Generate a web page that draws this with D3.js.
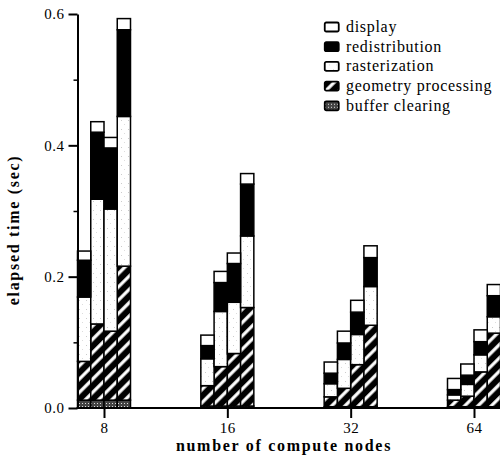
<!DOCTYPE html>
<html>
<head>
<meta charset="utf-8">
<script src="https://cdn.jsdelivr.net/npm/d3@7"></script>
<style>
    body { margin: 0; background: #fff; }
    #chart { width: 500px; height: 461px; }
    .axis text { font-family: "Liberation Serif", serif; font-size: 15px; fill: #000; letter-spacing: 0.5px; }
    .axis path, .axis line { stroke: #000; }
    .axis-title { font-family: "Liberation Serif", serif; font-weight: bold; font-size: 16px; letter-spacing: 1.7px; }
    .legend-text { font-family: "Liberation Serif", serif; font-size: 16px; letter-spacing: 0.7px; }
</style>
</head>
<body>
<div id="chart"></div>
<script>

// node counts on the x axis, four runs per group
const nodeCounts = [8, 16, 32, 64];
const runs = [0, 1, 2, 3];

// elapsed time per phase (sec), ordered group by group, run by run
const bufferClearing = [
    0.012, 0.012, 0.012, 0.012,
    0.003, 0.003, 0.003, 0.003,
    0.002, 0.002, 0.002, 0.002,
    0.002, 0.002, 0.002, 0.002
];
const geometryProcessing = [
    0.059, 0.116, 0.105, 0.204,
    0.031, 0.060, 0.080, 0.150,
    0.015, 0.028, 0.064, 0.124,
    0.010, 0.016, 0.053, 0.112
];
const rasterization = [
    0.098, 0.190, 0.186, 0.228,
    0.041, 0.084, 0.078, 0.109,
    0.020, 0.044, 0.046, 0.059,
    0.008, 0.018, 0.026, 0.025
];
const redistribution = [
    0.056, 0.102, 0.093, 0.132,
    0.020, 0.044, 0.059, 0.079,
    0.016, 0.025, 0.034, 0.044,
    0.008, 0.014, 0.020, 0.032
];
const display = [
    0.014, 0.016, 0.016, 0.017,
    0.016, 0.017, 0.016, 0.016,
    0.017, 0.018, 0.018, 0.018,
    0.017, 0.017, 0.018, 0.017
];

const phaseNames = ["buffer clearing", "geometry processing", "rasterization", "redistribution", "display"];
const yTicks = [0, 0.2, 0.4, 0.6];
const yMinorTicks = [0.1, 0.3, 0.5];

class StackedBars {
    constructor(parentElement){
        this.parentElement = parentElement;
        this.initVis();
    }

    initVis(){
        let vis = this;

        vis.width = 500;
        vis.height = 461;

        vis.svg = d3.select("#" + vis.parentElement).append("svg")
            .attr("width", vis.width)
            .attr("height", vis.height);

        let defs = vis.svg.append("defs");

        // black with white diagonal stripes
        let stripes = defs.append("pattern")
            .attr("id", "stripes")
            .attr("patternUnits", "userSpaceOnUse")
            .attr("width", 9.4)
            .attr("height", 10)
            .attr("patternTransform", "rotate(45)");
        stripes.append("rect").attr("width", 9.4).attr("height", 10).attr("fill", "#000");
        stripes.append("rect").attr("x", 3).attr("width", 3.2).attr("height", 10).attr("fill", "#fff");

        // gray crosshatch for buffer clearing
        let hatch = defs.append("pattern")
            .attr("id", "hatch")
            .attr("patternUnits", "userSpaceOnUse")
            .attr("width", 3)
            .attr("height", 3);
        hatch.append("rect").attr("width", 3).attr("height", 3).attr("fill", "#444");
        hatch.append("rect").attr("x", 1).attr("y", 1).attr("width", 1).attr("height", 1).attr("fill", "#ddd");

        // faint stipple for rasterization
        let stipple = defs.append("pattern")
            .attr("id", "stipple")
            .attr("patternUnits", "userSpaceOnUse")
            .attr("width", 7)
            .attr("height", 9);
        stipple.append("rect").attr("width", 7).attr("height", 9).attr("fill", "#fff");
        stipple.append("rect").attr("x", 2).attr("y", 3).attr("width", 1).attr("height", 1).attr("fill", "#ccc");
        stipple.append("rect").attr("x", 5).attr("y", 7).attr("width", 1).attr("height", 1).attr("fill", "#ddd");

        vis.fills = {
            "buffer clearing": "url(#hatch)",
            "geometry processing": "url(#stripes)",
            "rasterization": "url(#stipple)",
            "redistribution": "#000",
            "display": "#fff"
        };

        // Scales
        vis.xGroup = d3.scalePoint().domain(nodeCounts).range([104, 474]);
        vis.xRun = d3.scaleBand().domain(runs).range([-26.5, 26.5]);
        vis.y = d3.scaleLinear().domain([0, 0.6]).range([408, 14]);

        vis.wrangleData();
    }

    wrangleData(){
        let vis = this;

        vis.data = [];
        nodeCounts.forEach((n, g) => {
            runs.forEach(r => {
                let i = g * runs.length + r;
                vis.data.push({
                    nodes: n,
                    run: r,
                    "buffer clearing": bufferClearing[i],
                    "geometry processing": geometryProcessing[i],
                    "rasterization": rasterization[i],
                    "redistribution": redistribution[i],
                    "display": display[i]
                });
            });
        });

        vis.stacked = d3.stack().keys(phaseNames)(vis.data);
        vis.updateVis();
    }

    updateVis(){
        let vis = this;

        // Bars
        vis.svg.append("g").selectAll("g")
            .data(vis.stacked)
            .join("g")
            .attr("fill", d => vis.fills[d.key])
            .selectAll("rect")
            .data(d => d)
            .join("rect")
            .attr("x", d => vis.xGroup(d.data.nodes) + vis.xRun(d.data.run))
            .attr("y", d => vis.y(d[1]))
            .attr("width", vis.xRun.bandwidth())
            .attr("height", d => vis.y(d[0]) - vis.y(d[1]))
            .attr("stroke", "#000")
            .attr("stroke-width", 1.5);

        // Y axis
        let yAxis = d3.axisLeft(vis.y)
            .tickValues(yTicks)
            .tickFormat(d3.format(".1f"))
            .tickSize(9)
            .tickSizeOuter(0)
            .tickPadding(4);
        vis.svg.append("g")
            .attr("class", "y-axis axis")
            .attr("transform", "translate(77.5,0)")
            .call(yAxis)
            .call(g => g.select(".domain").attr("stroke-width", 2))
            .call(g => g.selectAll(".tick line").attr("stroke-width", 2));

        vis.svg.append("g")
            .attr("class", "axis")
            .attr("transform", "translate(77.5,0)")
            .call(d3.axisLeft(vis.y).tickValues(yMinorTicks).tickFormat("").tickSize(4).tickSizeOuter(0))
            .call(g => g.select(".domain").remove())
            .call(g => g.selectAll(".tick line").attr("stroke-width", 1.5));

        // X axis
        let xAxis = d3.axisBottom(vis.xGroup)
            .tickSize(10)
            .tickSizeOuter(0)
            .tickPadding(4);
        vis.svg.append("g")
            .attr("class", "x-axis axis")
            .attr("transform", "translate(0," + vis.y(0) + ")")
            .call(xAxis)
            .call(g => g.select(".domain").remove())
            .call(g => g.selectAll(".tick line").attr("stroke-width", 2));

        vis.svg.append("line")
            .attr("x1", vis.xGroup(nodeCounts[0]) + vis.xRun.range()[0] - 1)
            .attr("x2", vis.width)
            .attr("y1", vis.y(0))
            .attr("y2", vis.y(0))
            .attr("stroke", "#000")
            .attr("stroke-width", 2);

        // Axis titles
        vis.svg.append("text")
            .attr("class", "axis-title")
            .attr("text-anchor", "middle")
            .attr("x", 284)
            .attr("y", 451)
            .text("number of compute nodes");

        vis.svg.append("g")
            .attr("transform", "translate(19,230) rotate(-90)")
            .append("text")
            .attr("class", "axis-title")
            .attr("text-anchor", "middle")
            .text("elapsed time (sec)");

        // Legend, top entry first
        let legendItems = phaseNames.slice().reverse();
        let legend = vis.svg.append("g")
            .attr("transform", "translate(324,27)")
            .selectAll("g")
            .data(legendItems)
            .join("g")
            .attr("transform", (d, i) => "translate(0," + (i * 19.7) + ")");

        legend.append("rect")
            .attr("x", 0.75)
            .attr("y", -4.5)
            .attr("width", 14)
            .attr("height", 9)
            .attr("rx", 1.5)
            .attr("fill", d => vis.fills[d])
            .attr("stroke", "#000")
            .attr("stroke-width", 1.8);

        legend.append("text")
            .attr("class", "legend-text")
            .attr("x", 22)
            .attr("y", 5)
            .text(d => d);
    }
}

new StackedBars("chart");
</script>
</body>
</html>
